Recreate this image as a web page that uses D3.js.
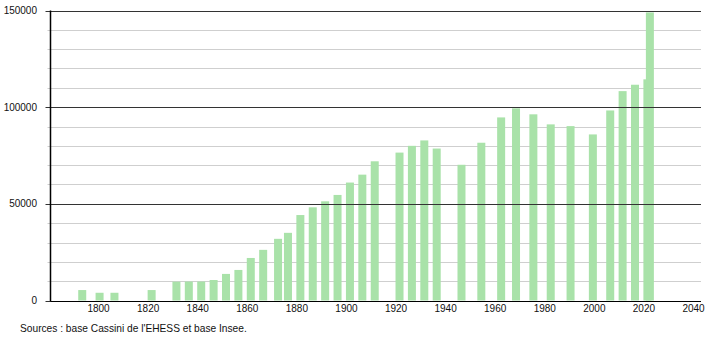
<!DOCTYPE html>
<html><head><meta charset="utf-8">
<script src="https://cdn.jsdelivr.net/npm/d3@7"></script>
<style>body{margin:0;background:#fff}svg{display:block;font-family:"Liberation Sans",Arial,sans-serif}</style>
</head><body><svg id="c" width="710" height="340"></svg>
<script>
const years = [1793,1800,1806,1821,1831,1836,1841,1846,1851,1856,1861,1866,1872,1876,1881,1886,1891,1896,1901,1906,1911,1921,1926,1931,1936,1946,1954,1962,1968,1975,1982,1990,1999,2006,2011,2016,2021,2022];
const population = [5400,4000,4000,5400,9750,9800,9800,10600,13750,15800,22000,26200,31900,35000,44200,48200,51300,54600,61000,65100,72000,76500,80000,82800,78600,70200,81600,94700,99400,96300,91100,90200,85900,98300,108300,111600,114400,149000];
const xTicks = [1800,1820,1840,1860,1880,1900,1920,1940,1960,1980,2000,2020,2040];
const yMajor = [0,50000,100000,150000];
const yMinor = [10000,20000,30000,40000,60000,70000,80000,90000,110000,120000,130000,140000];
const source = "Sources : base Cassini de l'EHESS et base Insee.";

const svg = d3.select("#c");
const x = d3.scaleLinear().domain([1780,2040]).range([50,694.5]);
const y = d3.scaleLinear().domain([0,150000]).range([300.5,10.5]);
const left = 50.5, right = 701;

svg.append("g").selectAll("line").data(yMinor).join("line")
  .attr("x1",left-3).attr("x2",right).attr("y1",d=>Math.round(y(d))+0.5).attr("y2",d=>Math.round(y(d))+0.5)
  .attr("stroke","#cfcfcf").attr("stroke-width",1);

const data = years.map((yr,i)=>({yr,v:population[i]}));
svg.append("g").selectAll("rect").data(data).join("rect")
  .attr("x",d=>x(d.yr)-4).attr("width",8)
  .attr("y",d=>y(d.v)).attr("height",d=>y(0)-y(d.v))
  .attr("fill","#a9e2a9");

svg.append("g").selectAll("line").data(yMajor).join("line")
  .attr("x1",left-5).attr("x2",right).attr("y1",d=>Math.round(y(d))+0.5).attr("y2",d=>Math.round(y(d))+0.5)
  .attr("stroke","#333").attr("stroke-width",1);

svg.append("line").attr("x1",left).attr("x2",left).attr("y1",y(150000)).attr("y2",y(0)+0.5)
  .attr("stroke","#000").attr("stroke-width",1.5);
svg.append("line").attr("x1",left).attr("x2",right).attr("y1",Math.round(y(0))+0.5).attr("y2",Math.round(y(0))+0.5)
  .attr("stroke","#000").attr("stroke-width",1.2);

svg.append("g").selectAll("text").data(yMajor).join("text")
  .attr("x",37).attr("y",d=>y(d)+3.5).attr("text-anchor","end")
  .attr("font-size",10).attr("fill","#111").text(d=>d);

svg.append("g").selectAll("text").data(xTicks).join("text")
  .attr("x",d=>x(d)-1).attr("y",312).attr("text-anchor","middle")
  .attr("font-size",10).attr("fill","#111").text(d=>d);

svg.append("text").attr("x",20).attr("y",331.5).attr("font-size",10.2).attr("fill","#111").text(source);
</script></body></html>
